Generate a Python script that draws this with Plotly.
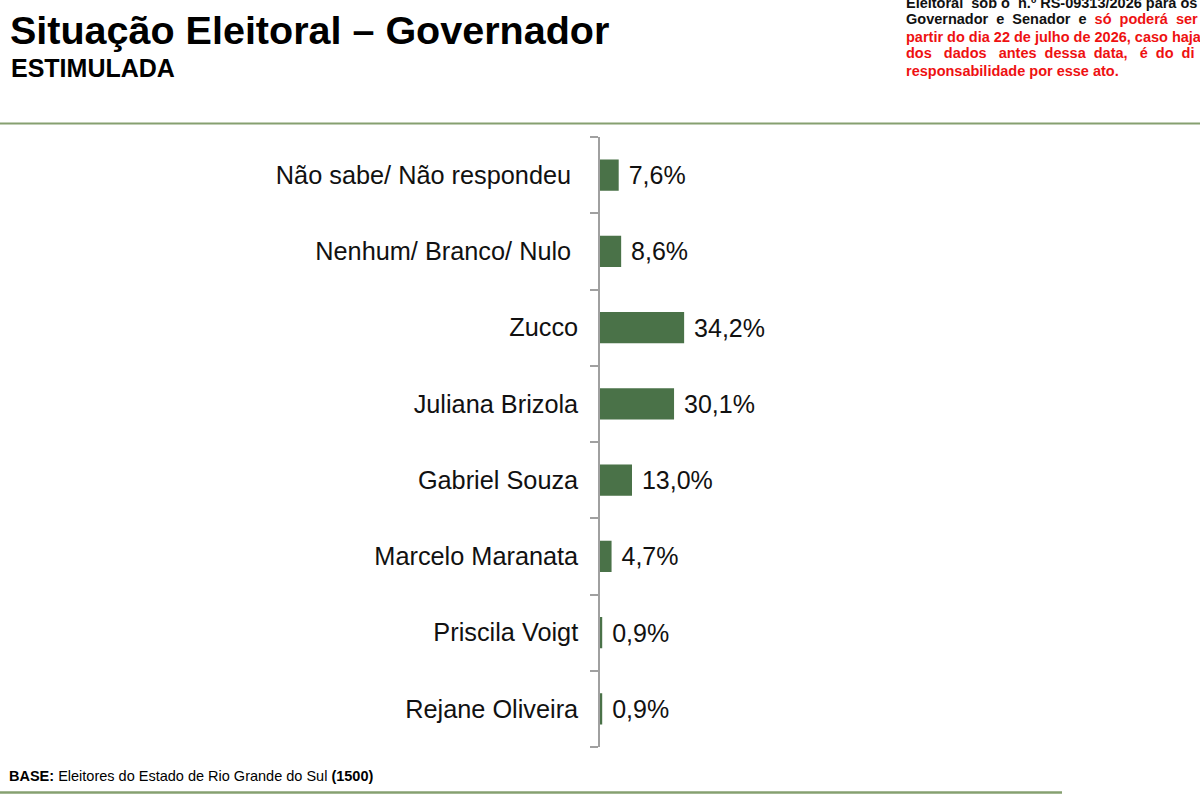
import plotly.graph_objects as go

categories = ["Não sabe/ Não respondeu", "Nenhum/ Branco/ Nulo", "Zucco", "Juliana Brizola",
              "Gabriel Souza", "Marcelo Maranata", "Priscila Voigt", "Rejane Oliveira"]
values = [7.6, 8.6, 34.2, 30.1, 13.0, 4.7, 0.9, 0.9]
labels = ["\u00a0" + f"{v:.1f}".replace(".", ",") + "%" for v in values]
# the first two labels carry a trailing space in the original slide
tick_text = [categories[0] + "\u00a0", categories[1] + "\u00a0"] + categories[2:]

W, H = 1200, 800
ML, MR, MT, MB = 600, 50, 137, 53
PW, PH = W - ML - MR, H - MT - MB
PX_PER_UNIT = 2.46

def px(x):
    return (x - ML) / PW

def py(y):
    return (H - MB - y) / PH

FONT = "Liberation Sans, Arial, sans-serif"
N1 = "\u00a0"
N2 = "\u00a0\u00a0"

fig = go.Figure()
fig.add_trace(go.Bar(
    y=categories, x=values, orientation="h",
    marker=dict(color="#4a7248", line=dict(width=0)),
    text=labels, textposition="outside", cliponaxis=False,
    textfont=dict(family=FONT, size=25, color="#111111"),
    width=0.41,
))

annotations = [
    dict(text="<b>Situação Eleitoral – Governador</b>", x=px(8), y=py(30), xanchor="left", yanchor="middle",
         font=dict(family=FONT, size=39.5, color="#000000")),
    dict(text="<b>ESTIMULADA</b>", x=px(9), y=py(68), xanchor="left", yanchor="middle",
         font=dict(family=FONT, size=25, color="#000000")),
    dict(text="<b>BASE:</b> Eleitores do Estado de Rio Grande do Sul <b>(1500)</b>", x=px(7), y=py(776),
         xanchor="left", yanchor="middle", font=dict(family=FONT, size=14.5, color="#000000")),
]

note_lines = [
    ("<b>Eleitoral " + N1 + "sob o " + N1 + "n.º RS-09313/2026 para os</b>", 3),
    ("<b>Governador " + N1 + "e " + N1 + "Senador " + N1 + "e " + N1
     + "<span style='color:#ee1111'>só " + N1 + "poderá " + N1 + "ser</span></b>", 19.5),
    ("<b><span style='color:#ee1111'>partir do dia 22 de julho de 2026, caso haja</span></b>", 36.5),
    ("<b><span style='color:#ee1111'>dos " + N2 + "dados " + N2 + "antes " + N1 + "dessa " + N1
     + "data, " + N2 + "é " + N1 + "do " + N1 + "di</span></b>", 53.5),
    ("<b><span style='color:#ee1111'>responsabilidade por esse ato.</span></b>", 70.5),
]
for t, yy in note_lines:
    annotations.append(dict(text=t, x=px(904), y=py(yy), xanchor="left", yanchor="middle",
                            font=dict(family=FONT, size=14.5, color="#111111")))
for a in annotations:
    a.update(xref="paper", yref="paper", showarrow=False)

shapes = [
    dict(type="line", xref="paper", yref="paper", x0=px(0), x1=px(1200), y0=py(123.5), y1=py(123.5),
         line=dict(color="#86a070", width=2)),
    dict(type="line", xref="paper", yref="paper", x0=px(0), x1=px(1062), y0=py(792.5), y1=py(792.5),
         line=dict(color="#86a070", width=2.5)),
]

fig.update_layout(
    width=W, height=H,
    margin=dict(l=ML, r=MR, t=MT, b=MB, autoexpand=False),
    paper_bgcolor="white", plot_bgcolor="white",
    showlegend=False,
    annotations=annotations, shapes=shapes,
    xaxis=dict(range=[0, PW / PX_PER_UNIT], visible=False, fixedrange=True),
    yaxis=dict(categoryorder="array", categoryarray=categories, autorange="reversed",
               tickmode="array", tickvals=categories, ticktext=tick_text,
               showline=True, linecolor="#a0a0a0", linewidth=1.5,
               ticks="outside", tickson="boundaries", ticklen=8, tickcolor="#a0a0a0", tickwidth=1.5,
               ticklabelstandoff=15,
               tickfont=dict(family=FONT, size=25.3, color="#111111"),
               showgrid=False, zeroline=False, fixedrange=True),
    font=dict(family=FONT),
)

fig.write_html("out.html", config={"displayModeBar": False})
